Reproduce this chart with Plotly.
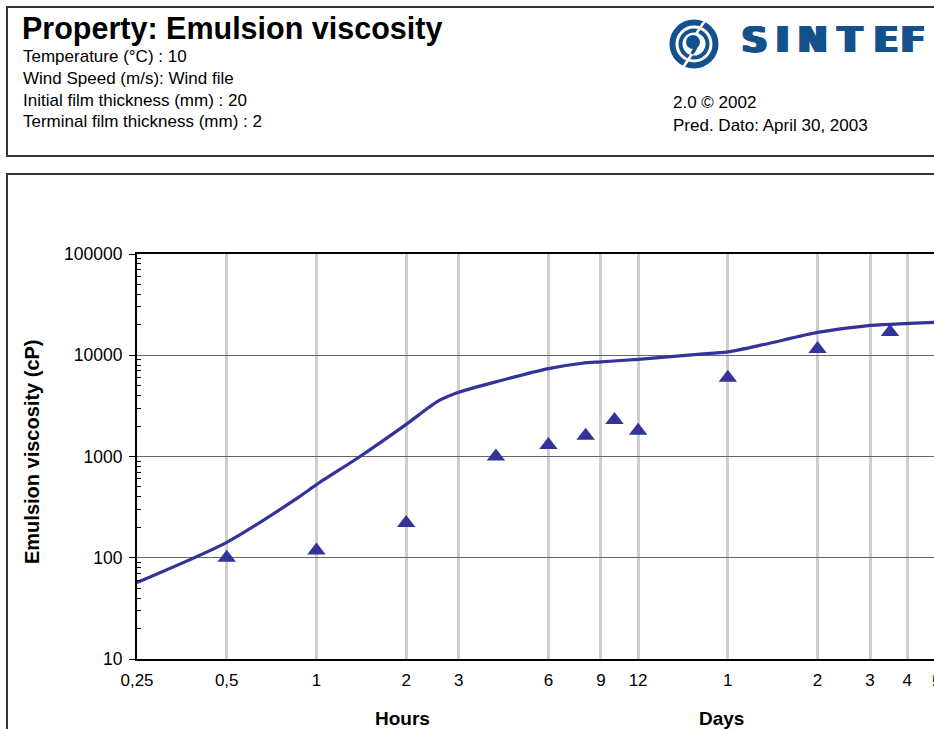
import math
import plotly.graph_objects as go

# ---------------- data ----------------
curve_hours = [0.25, 0.5, 0.88, 1, 1.4, 2, 2.55, 3, 4.1, 6, 7.8, 9, 12, 19, 24, 32, 48, 70, 118]
curve_visc = [57, 142, 404, 528, 1000, 2075, 3500, 4300, 5570, 7380, 8340, 8600, 9120, 10200, 10800, 12850, 16800, 19500, 21100]

obs_hours = [0.5, 1, 2, 4, 6, 8, 10, 12, 24, 48, 84]
obs_visc = [100, 118, 220, 1000, 1300, 1600, 2300, 1800, 6000, 11500, 17000]

x_tickvals = [0.25, 0.5, 1, 2, 3, 6, 9, 12, 24, 48, 72, 96]
x_ticktext = ["0,25", "0,5", "1", "2", "3", "6", "9", "12", "1", "2", "3", "4"]
edge_tick_val = 120
edge_tick_text = "5"
y_tickvals = [10, 100, 1000, 10000, 100000]
y_ticktext = ["10", "100", "1000", "10000", "100000"]

header_title = "Property: Emulsion viscosity"
header_lines = ["Temperature (°C) : 10", "Wind Speed (m/s): Wind file",
                "Initial film thickness (mm) : 20", "Terminal film thickness (mm) : 2"]
version_lines = ["2.0 © 2002", "Pred. Dato: April 30, 2003"]

# ---------------- layout geometry ----------------
FW, FH = 934, 729
L, R, T, B = 137, 934, 254, 659
W, H = R - L, B - T
x_lo, x_hi = math.log10(0.25), math.log10(118)

def px(x):
    return (x - L) / W

def py(y):
    return (B - y) / H

FONT = "Arial, 'Liberation Sans', sans-serif"
BLUE = "#333399"
LOGO = "#14508c"

fig = go.Figure()
fig.add_trace(go.Scatter(x=curve_hours, y=curve_visc, mode="lines",
                         line=dict(color=BLUE, width=3.2, shape="spline", smoothing=0.7),
                         showlegend=False, hoverinfo="skip"))
fig.add_trace(go.Scatter(x=obs_hours, y=obs_visc, mode="markers",
                         marker=dict(symbol="triangle-up", size=16, color=BLUE),
                         showlegend=False, cliponaxis=False))

minor_vals = [m * 10 ** d for d in range(1, 5) for m in range(2, 10)]

fig.update_layout(
    width=FW, height=FH,
    margin=dict(l=L, r=FW - R, t=T, b=FH - B, pad=0),
    paper_bgcolor="white", plot_bgcolor="white",
    font=dict(family=FONT, color="black", size=17),
    xaxis=dict(type="log", range=[x_lo, x_hi], tickmode="array",
               tickvals=x_tickvals, ticktext=x_ticktext,
               showgrid=True, gridcolor="#cfcfcf", gridwidth=3,
               showline=True, linecolor="black", linewidth=2, mirror=True,
               ticks="", tickfont=dict(size=17), ticklabelstandoff=5,
               zeroline=False),
    yaxis=dict(type="log", range=[1, 5], tickmode="array",
               tickvals=y_tickvals, ticktext=y_ticktext,
               showgrid=True, gridcolor="#666666", gridwidth=1,
               showline=True, linecolor="black", linewidth=2,
               ticks="outside", ticklen=6, tickcolor="black", tickwidth=1,
               tickfont=dict(size=17.5), ticklabelstandoff=3,
               minor=dict(tickvals=minor_vals, ticks="inside", ticklen=4,
                          tickcolor="black", tickwidth=1, showgrid=False),
               zeroline=False),
)

shapes = []
# header box and chart box
shapes.append(dict(type="rect", xref="paper", yref="paper",
                   x0=px(7), x1=px(950), y0=py(156), y1=py(7),
                   line=dict(color="#333333", width=2), layer="below"))
shapes.append(dict(type="rect", xref="paper", yref="paper",
                   x0=px(7), x1=px(950), y0=py(745), y1=py(174),
                   line=dict(color="#333333", width=2), layer="below"))

# logo rings
cx, cy = 694, 44
def circ(r, **kw):
    return dict(type="circle", xref="paper", yref="paper",
                x0=px(cx - r), x1=px(cx + r), y0=py(cy + r), y1=py(cy - r), **kw)
shapes.append(circ(21.5, line=dict(color=LOGO, width=6)))
shapes.append(circ(13.5, line=dict(color=LOGO, width=4)))
shapes.append(dict(type="circle", xref="paper", yref="paper",
                   x0=px(cx - 8), x1=px(cx + 6), y0=py(cy + 5), y1=py(cy - 9),
                   fillcolor=LOGO, line=dict(width=0)))
shapes.append(dict(type="path", xref="paper", yref="paper",
                   path=f"M {px(cx+5)} {py(cy-3)} Q {px(cx+4)} {py(cy+8)} {px(cx-5)} {py(cy+14)} "
                        f"L {px(cx-3)} {py(cy+8)} Q {px(cx)} {py(cy+4)} {px(cx-2)} {py(cy+2)} Z",
                   fillcolor=LOGO, line=dict(width=0)))
# white gaps in the rings
shapes.append(dict(type="line", xref="paper", yref="paper",
                   x0=px(cx + 2), x1=px(cx + 12), y0=py(cy - 10), y1=py(cy - 25),
                   line=dict(color="white", width=2.5)))
shapes.append(dict(type="line", xref="paper", yref="paper",
                   x0=px(cx - 2), x1=px(cx - 12), y0=py(cy + 10), y1=py(cy + 25),
                   line=dict(color="white", width=2.5)))
fig.update_layout(shapes=shapes)

ann = []
def text(t, x, y, size, bold=False, color="black", xanchor="left", angle=0,
         family=FONT, shadow=None):
    f = dict(family=family, size=size, color=color)
    if shadow:
        f["shadow"] = shadow
    ann.append(dict(text=f"<b>{t}</b>" if bold else t, xref="paper", yref="paper",
                    x=px(x), y=py(y), xanchor=xanchor, yanchor="middle",
                    showarrow=False, textangle=angle, font=f))

text(header_title, 20, 28, 30.5, bold=True)
for i, line in enumerate(header_lines):
    text(line, 21, 57 + i * 21.5, 17)
for i, line in enumerate(version_lines):
    text(line, 671, 103 + i * 22, 17)

thick = f"1px 0px 0px {LOGO}, 2px 0px 0px {LOGO}, 3px 0px 0px {LOGO}, 4px 0px 0px {LOGO}"
for ch, x in zip("SINTEF", [752, 780, 810, 847.5, 883.5, 911]):
    text(ch, x, 40, 35, bold=True, color=LOGO, xanchor="center",
         family="'DejaVu Sans', sans-serif", shadow=thick)

text("Hours", 402, 718, 19, bold=True, xanchor="center")
text("Days", 721, 718, 19, bold=True, xanchor="center")
text("Emulsion viscosity (cP)", 32, 452, 20, bold=True, xanchor="center", angle=-90)

# partially visible edge tick label of the x axis
ann.append(dict(text=edge_tick_text, xref="paper", yref="paper",
                x=(math.log10(edge_tick_val) - x_lo) / (x_hi - x_lo), y=py(681),
                xanchor="center", yanchor="middle", showarrow=False,
                font=dict(family=FONT, size=17, color="black")))
fig.update_layout(annotations=ann)

fig.write_html("out.html", config={"displayModeBar": False},
               post_script="document.body.style.margin='0';document.body.style.padding='0';")
